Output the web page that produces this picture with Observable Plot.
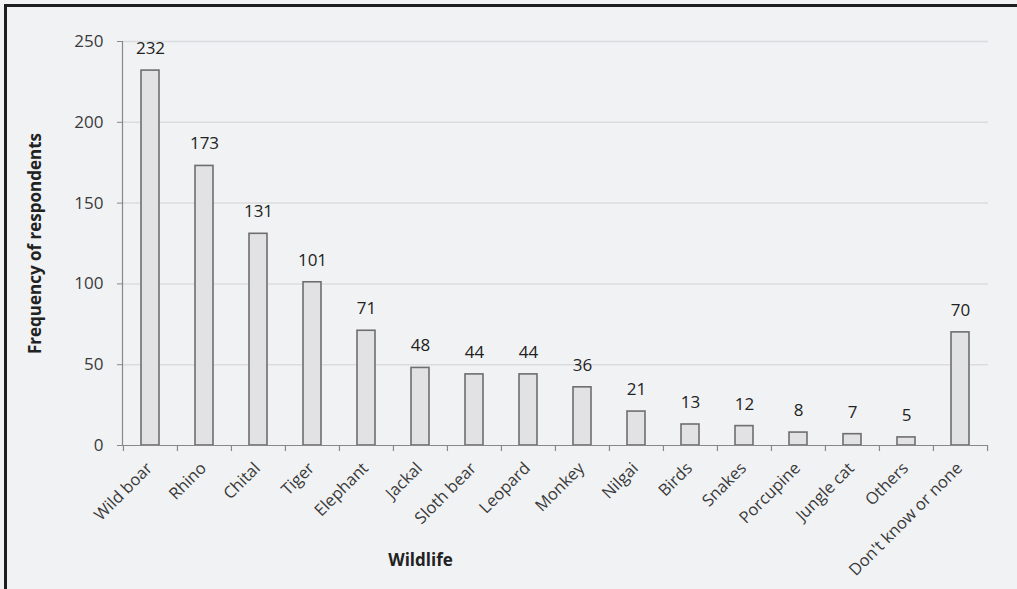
<!DOCTYPE html>
<html>
<head>
<meta charset="utf-8">
<script src="https://cdn.jsdelivr.net/npm/d3@7"></script>
<script src="https://cdn.jsdelivr.net/npm/@observablehq/plot@0.6"></script>
<style>
  html, body { margin: 0; padding: 0; background: #f1f2f4; }
  #wrap { position: relative; width: 1017px; height: 589px; overflow: hidden; }
  #edge { position: absolute; left: 4px; top: 4px; right: -10px; bottom: -10px;
          border-top: 3px solid #1e1e1e; border-left: 3px solid #1e1e1e; }
  #chart { position: absolute; left: 0; top: 0; }
</style>
</head>
<body>
<div id="wrap"><div id="edge"></div><div id="chart"></div></div>
<script>
// Wildlife reported by respondents
const categories = ["Wild boar", "Rhino", "Chital", "Tiger", "Elephant", "Jackal", "Sloth bear",
  "Leopard", "Monkey", "Nilgai", "Birds", "Snakes", "Porcupine", "Jungle cat", "Others",
  "Don't know or none"];
const counts = [232, 173, 131, 101, 71, 48, 44, 44, 36, 21, 13, 12, 8, 7, 5, 70];
const yTicks = [0, 50, 100, 150, 200, 250];
const yTitle = "Frequency of respondents";
const xTitle = "Wildlife";

const data = categories.map((c, i) => ({category: c, count: counts[i]}));

const W = 1017, H = 589;
const mL = 122, mR = 29, mT = 41, mB = 144;
const padInner = 0.67, padOuter = padInner / 2;
const step = (W - mL - mR) / (categories.length - padInner + 2 * padOuter);
const tickLenUnits = 250 * 6 / (H - mT - mB); // ~6px below the baseline

const chart = Plot.plot({
  width: W, height: H,
  marginLeft: mL, marginRight: mR, marginTop: mT, marginBottom: mB,
  style: {background: "transparent", fontFamily: "'Open Sans', sans-serif", fontSize: "16px", color: "#333"},
  x: {domain: categories, paddingInner: padInner, paddingOuter: padOuter, label: null},
  y: {domain: [0, 250], label: null},
  marks: [
    Plot.gridY(yTicks.filter(t => t > 0), {stroke: "#dcdcde", strokeOpacity: 1, strokeWidth: 1.5}),
    Plot.axisY(yTicks, {tickSize: 5, tickPadding: 14, stroke: "#888", fill: "#3a3a3a", fontSize: 17, label: null}),
    Plot.frame({anchor: "left", stroke: "#888", strokeWidth: 1.2}),
    Plot.barY(data, {x: "category", y: "count", fill: "#e2e2e4", stroke: "#6e6e6e", strokeWidth: 1.6}),
    Plot.ruleY([0], {stroke: "#888", strokeWidth: 1.2}),
    Plot.ruleX(categories, {x: d => d, dx: -step / 2, y1: 0, y2: -tickLenUnits, stroke: "#888", strokeWidth: 1.2}),
    Plot.ruleX(categories.slice(-1), {x: d => d, dx: step / 2, y1: 0, y2: -tickLenUnits, stroke: "#888", strokeWidth: 1.2}),
    Plot.axisX({tickRotate: -45, tickSize: 0, tickPadding: 20, dx: -1, fill: "#3a3a3a", fontSize: 16.5, label: null}),
    Plot.text(data, {x: "category", y: "count", text: d => String(d.count), dy: -22, fill: "#222", fontSize: 17}),
    Plot.text([yTitle], {frameAnchor: "left", textAnchor: "middle", rotate: -90, dx: -87, fontWeight: "bold", fontSize: 17, fill: "#222"}),
    Plot.text([xTitle], {frameAnchor: "bottom-left", textAnchor: "middle", dx: 298, dy: 120, fontWeight: "bold", fontSize: 17, fill: "#222"})
  ]
});
document.getElementById("chart").appendChild(chart);
</script>
</body>
</html>
